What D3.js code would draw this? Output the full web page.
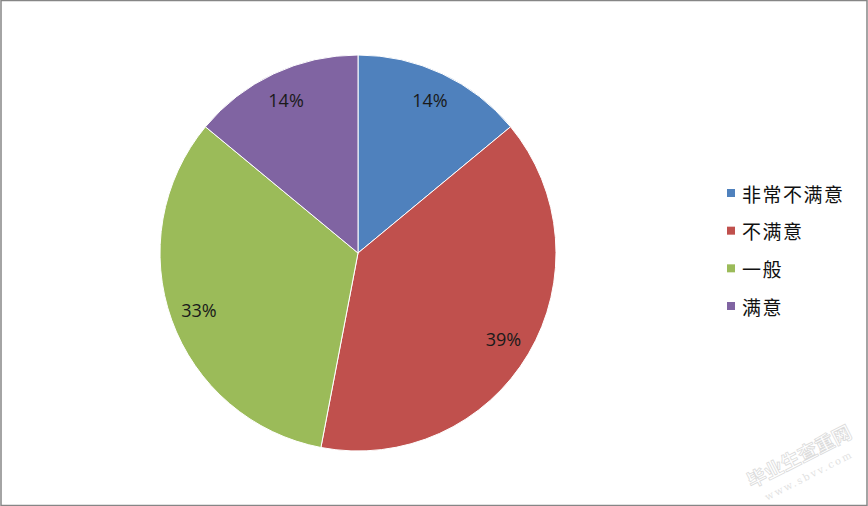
<!DOCTYPE html>
<html><head><meta charset="utf-8">
<script src="https://cdn.jsdelivr.net/npm/d3@7"></script>
<style>html,body{margin:0;padding:0;background:#fff;}svg{display:block;}</style>
</head><body>
<svg id="c" width="868" height="506"></svg>
<script>
const categories = ["非常不满意","不满意","一般","满意"];
const values = [14, 39, 33, 14];
const labels = ["14%","39%","33%","14%"];
const colors = ["#4f81bd","#c0504d","#9bbb59","#8064a2"];

const svg = d3.select("#c");
svg.append("rect").attr("x",1).attr("y",0.5).attr("width",866).attr("height",505)
  .attr("fill","#fff").attr("stroke","#868686").attr("stroke-width",1.5);

const cx = 358, cy = 253, r = 198;
const pie = d3.pie().sort(null).value(d=>d);
const arcs = pie(values);
const arc = d3.arc().innerRadius(0).outerRadius(r);
const g = svg.append("g").attr("transform",`translate(${cx},${cy})`);
g.selectAll("path").data(arcs).enter().append("path")
  .attr("d",arc).attr("fill",(d,i)=>colors[i]).attr("stroke","#fff").attr("stroke-width",1);

const labelArc = d3.arc().innerRadius(169).outerRadius(169);
g.selectAll("text").data(arcs).enter().append("text")
  .attr("transform",d=>{const c=labelArc.centroid(d);return `translate(${c[0]},${c[1]})`;})
  .attr("text-anchor","middle").attr("dominant-baseline","central")
  .attr("font-family","'Open Sans', 'Liberation Sans', sans-serif").attr("font-size",18)
  .attr("fill","#1a1a1a").text((d,i)=>labels[i]);

const leg = svg.append("g");
const ly = d3.scalePoint().domain(categories).range([193,306]);
categories.forEach((c,i)=>{
  leg.append("rect").attr("x",727).attr("y",ly(c)-4).attr("width",8).attr("height",8).attr("fill",colors[i]);
  leg.append("text").attr("x",742).attr("y",ly(c)).attr("dominant-baseline","central")
    .attr("font-family","'Noto Sans CJK SC', sans-serif").attr("font-size",19).attr("letter-spacing",1.5)
    .attr("fill","#111").text(c);
});

const wm = svg.append("g").attr("transform","translate(805,468) rotate(-27)").attr("opacity",0.35);
wm.append("text").attr("text-anchor","middle").attr("y",-6).attr("font-family","'Noto Sans CJK SC', sans-serif")
  .attr("font-size",19).attr("font-weight","bold").attr("fill","none").attr("stroke","#999").attr("stroke-width",0.8).text("毕业生查重网");
wm.append("text").attr("text-anchor","middle").attr("y",12).attr("font-family","'DejaVu Serif', serif")
  .attr("font-size",10).attr("letter-spacing",2).attr("fill","#aaa").text("www.sbvv.com");
</script>
</body></html>
